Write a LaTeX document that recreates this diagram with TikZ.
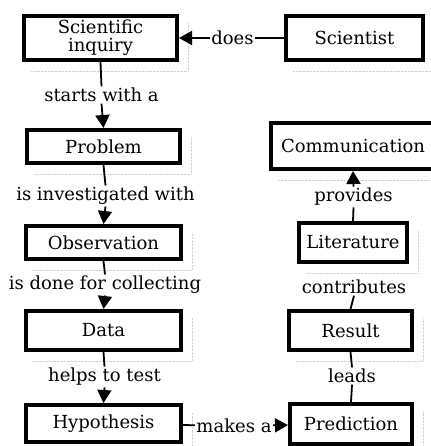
\documentclass[tikz,border=0pt]{standalone}
\usepackage{fontspec}
\setmainfont{DejaVu Serif}
\usetikzlibrary{arrows.meta}

\begin{document}
\begin{tikzpicture}[x=1pt,y=-1pt,font=\fontsize{18}{23}\selectfont,
  concept/.style={draw,line width=4pt,fill=white,align=center,inner sep=0pt},
  phrase/.style={inner sep=1.5pt},
  link/.style={line width=1.8pt},
  linkto/.style={link,-{Triangle[length=13pt,width=14pt]}},
  ghost/.style={gray!35,densely dotted,thin}]
 \useasboundingbox (0,0) rectangle (430,446);
 % left column
 \node[concept,minimum width=153,minimum height=44] (sci) at (100.5,38) {Scientific\\[-5pt]inquiry};
 \node[concept,minimum width=153,minimum height=33] (prob) at (103.5,146.5) {Problem};
 \node[concept,minimum width=155,minimum height=33] (obs) at (103.5,242.5) {Observation};
 \node[concept,minimum width=155,minimum height=39] (data) at (103.5,330.5) {Data};
 \node[concept,minimum width=155,minimum height=37] (hyp) at (103.5,423.5) {Hypothesis};
 % right column
 \node[concept,minimum width=137,minimum height=44] (scist) at (354.5,38) {Scientist};
 \node[concept,minimum width=164,minimum height=46] (comm) at (353,146) {Communication};
 \node[concept,minimum width=108,minimum height=39] (lit) at (353,242.5) {Literature};
 \node[concept,minimum width=123,minimum height=39] (res) at (350.5,330.5) {Result};
 \node[concept,minimum width=122,minimum height=40] (pred) at (351,424) {Prediction};
 \foreach \n in {sci,prob,obs,data,hyp,scist,comm,lit,res,pred}
   {\draw[ghost] ([shift={(9,9)}]\n.south west) -| ([shift={(9,9)}]\n.north east);}
 % linking phrases
 \node[phrase] (does) at (232.5,38) {does};
 \node[phrase] (starts) at (101.5,95) {starts with a};
 \node[phrase] (invest) at (105.5,196) {is investigated with};
 \node[phrase] (collect) at (105,285) {is done for collecting};
 \node[phrase] (helps) at (104.5,377) {helps to test};
 \node[phrase] (makes) at (234,426) {makes a};
 \node[phrase] (prov) at (353.5,197) {provides};
 \node[phrase] (contr) at (354,287) {contributes};
 \node[phrase] (leads) at (352,376) {leads};
 % connectors
 \draw[link] (scist) -- (does); \draw[linkto] (does) -- (sci);
 \foreach \a/\l/\b in {sci/starts/prob,prob/invest/obs,obs/collect/data,data/helps/hyp}
   {\draw[link] (\a.south) -- (\l.north); \draw[linkto] (\l.south) -- (\b.north);}
 \draw[link] (hyp) -- (makes); \draw[linkto] (makes) -- (pred);
 \draw[link] (pred.north) -- (leads.south); \draw[link] (leads.north) -- (res.south);
 \draw[link] (res.north) -- (contr.south);
 \draw[link] (lit.north) -- (prov.south); \draw[linkto] (prov.north) -- (comm.south);
\end{tikzpicture}
\end{document}
